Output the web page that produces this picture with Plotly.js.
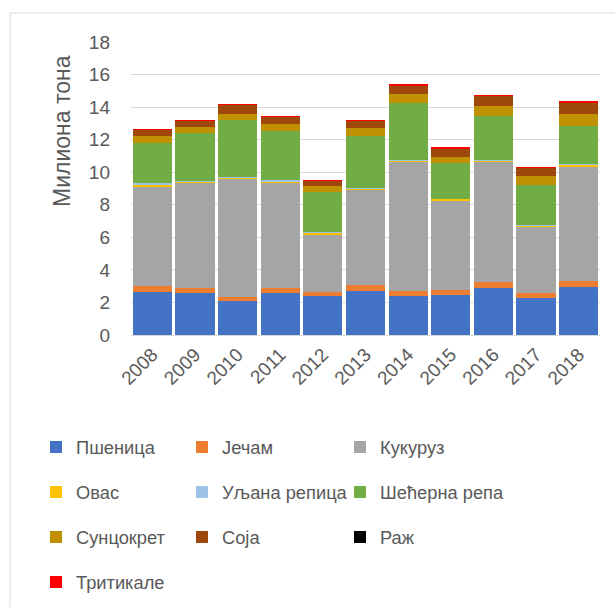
<!DOCTYPE html>
<html>
<head>
<meta charset="utf-8">
<script src="https://cdn.plot.ly/plotly-3.0.1.min.js"></script>
<style>
html,body{margin:0;padding:0;background:#fff;overflow:hidden;}
#chart{width:615px;height:607px;}
</style>
</head>
<body>
<div id="chart"></div>
<script>
const years = ['2008','2009','2010','2011','2012','2013','2014','2015','2016','2017','2018'];
const seriesNames = ['Пшеница','Јечам','Кукуруз','Овас','Уљана репица','Шећерна репа','Сунцокрет','Соја','Раж','Тритикале'];
const seriesColors = ['#4472C4','#ED7D31','#A5A5A5','#FFC000','#9DC3E6','#70AD47','#BF9000','#9E480E','#000000','#FF0000'];

const psenica     = [2.64, 2.56, 2.07, 2.60, 2.37, 2.70, 2.37, 2.43, 2.86, 2.25, 2.92];
const jecam       = [0.35, 0.35, 0.27, 0.29, 0.27, 0.37, 0.33, 0.33, 0.39, 0.31, 0.41];
const kukuruz     = [6.13, 6.40, 7.22, 6.46, 3.52, 5.83, 7.95, 5.46, 7.40, 4.05, 6.98];
const ovas        = [0.12, 0.10, 0.08, 0.08, 0.12, 0.10, 0.07, 0.12, 0.07, 0.08, 0.12];
const uljanaRepica= [0.09, 0.06, 0.04, 0.10, 0.04, 0.06, 0.06, 0.04, 0.06, 0.04, 0.10];
const secernaRepa = [2.45, 2.94, 3.52, 2.99, 2.45, 3.15, 3.49, 2.17, 2.70, 2.47, 2.33];
const suncokret   = [0.45, 0.37, 0.39, 0.43, 0.39, 0.49, 0.52, 0.41, 0.61, 0.55, 0.72];
const soja        = [0.37, 0.37, 0.55, 0.43, 0.31, 0.43, 0.53, 0.49, 0.59, 0.50, 0.65];
const raz         = [0.004, 0.004, 0.004, 0.004, 0.004, 0.004, 0.004, 0.004, 0.004, 0.004, 0.004];
const tritikale   = [0.06, 0.06, 0.06, 0.08, 0.06, 0.08, 0.10, 0.08, 0.08, 0.08, 0.13];

const yTickVals = [0,2,4,6,8,10,12,14,16,18];
const yTitle = 'Милиона тона';

const allValues = [psenica, jecam, kukuruz, ovas, uljanaRepica, secernaRepa, suncokret, soja, raz, tritikale];

const legendIds = allValues.map((v, i) => i === 0 ? 'legend' : 'legend' + (i + 1));

const traces = allValues.map((vals, i) => ({
  type: 'bar',
  name: seriesNames[i],
  x: years,
  y: vals,
  marker: {color: seriesColors[i], line: {width: 0}},
  legend: legendIds[i],
  hoverinfo: 'x+y+name'
}));

const font = {family: 'Liberation Sans, Arial, sans-serif', color: '#595959'};
const colX = [36, 182, 340];
const rowY = [447, 492, 537, 582];

const layout = {
  width: 615, height: 607,
  margin: {l: 131, r: 15, t: 42, b: 272},
  paper_bgcolor: '#fff', plot_bgcolor: '#fff',
  barmode: 'stack',
  bargap: 0.08,
  font: font,
  showlegend: true,
  xaxis: {
    type: 'category',
    tickangle: -45,
    tickfont: Object.assign({size: 19}, font),
    showgrid: false,
    showline: true, linecolor: '#d9d9d9', linewidth: 1,
    ticks: '',
    automargin: false
  },
  yaxis: {
    range: [0, 18],
    tickvals: yTickVals,
    tickfont: Object.assign({size: 19}, font),
    showgrid: true, gridcolor: '#d9d9d9', gridwidth: 1,
    zeroline: false, showline: false,
    ticks: '',
    ticklabelstandoff: 20,
    automargin: false
  },
  annotations: [{
    text: yTitle, textangle: -90,
    xref: 'paper', yref: 'paper',
    x: (62-131)/469, y: (335-131)/293,
    xanchor: 'center', yanchor: 'middle',
    showarrow: false,
    font: Object.assign({size: 23}, font)
  }],
  shapes: [{
    type: 'rect', xref: 'paper', yref: 'paper',
    x0: (10-131)/469, x1: 1.2,
    y0: -1.2, y1: (335-13)/293,
    line: {color: '#d9d9d9', width: 1}, fillcolor: 'rgba(0,0,0,0)',
    layer: 'below'
  }]
};

legendIds.forEach((id, i) => {
  layout[id] = {
    orientation: 'h',
    xref: 'container', yref: 'container',
    x: colX[i % 3] / 615, y: 1 - rowY[Math.floor(i / 3)] / 607,
    xanchor: 'left', yanchor: 'middle',
    font: Object.assign({size: 18.3}, font),
    bgcolor: 'rgba(0,0,0,0)'
  };
});

Plotly.newPlot('chart', traces, layout, {displayModeBar: false, staticPlot: true});
</script>
</body>
</html>
